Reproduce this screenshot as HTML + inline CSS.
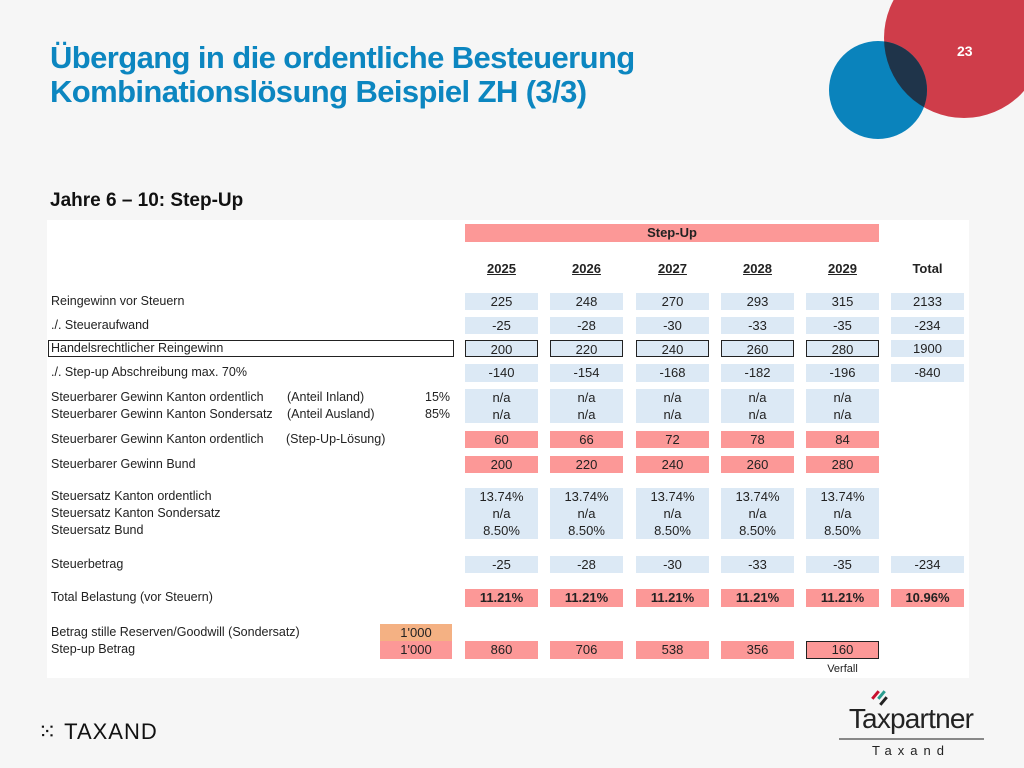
<!DOCTYPE html>
<html><head><meta charset="utf-8">
<style>
body{margin:0;width:1024px;height:768px;background:#f6f6f6;position:relative;overflow:hidden;font-family:"Liberation Sans",Arial,sans-serif}
.abs{position:absolute}
.t{position:absolute;font-size:12.5px;color:#222;white-space:nowrap;line-height:17px}
.c{position:absolute;font-size:13px;color:#222;text-align:center;line-height:17px}
</style></head><body>
<div class="abs" style="left:884px;top:-42px;width:160px;height:160px;border-radius:50%;background:#cf3d4a"></div>
<svg class="abs" style="left:0;top:0" width="1024" height="160">
<defs><clipPath id="rc"><circle cx="964" cy="38" r="80"/></clipPath></defs>
<circle cx="878" cy="90" r="49" fill="#0a83bc"/>
<circle cx="878" cy="90" r="49" fill="#1f344a" clip-path="url(#rc)"/>
</svg>
<div class="abs" style="left:957px;top:43px;color:#fff;font-size:14px;font-weight:bold">23</div>
<div class="abs" style="left:50px;top:41px;color:#0c86c0;font-size:31px;font-weight:bold;letter-spacing:-0.6px;line-height:34px">Übergang in die ordentliche Besteuerung<br>Kombinationslösung Beispiel ZH (3/3)</div>
<div class="abs" style="left:50px;top:190px;font-size:19px;font-weight:bold;color:#111">Jahre 6 – 10: Step-Up</div>
<div class="abs" style="left:47px;top:220px;width:922px;height:458px;background:#fff"></div>
<div id="tbl"></div>

<div class="abs" style="left:38px;top:719px;font-size:22px;letter-spacing:1px;color:#111">⁙ TAXAND</div>
<div class="abs" style="left:836px;top:688px;width:150px;text-align:center">
<div style="height:16px;position:relative"><span style="position:absolute;left:38px;top:2px;width:3px;height:10px;background:#c8102e;transform:rotate(40deg)"></span><span style="position:absolute;left:44px;top:2px;width:3px;height:10px;background:#2a9d8f;transform:rotate(40deg)"></span><span style="position:absolute;left:46px;top:8px;width:3px;height:10px;background:#222;transform:rotate(40deg)"></span></div>
<div style="font-size:28px;color:#222;letter-spacing:-0.8px;line-height:30px">Taxpartner</div>
<div style="border-top:2px solid #888;width:145px;margin:4px auto 0"></div>
<div style="font-size:13px;letter-spacing:6px;color:#222;margin-top:3px">Taxand</div>
</div>
<script>
const colX=[465,550,636,721,806,891];
const cw=73;
const years=['2025','2026','2027','2028','2029'];
const BL='#dce9f5',RD='#fc9897',OR='#f4b183';
const rows=[
 {y:293,h:17,lab:['Reingewinn vor Steuern'],vals:['225','248','270','293','315','2133'],bg:BL},
 {y:317,h:17,lab:['./. Steueraufwand'],vals:['-25','-28','-30','-33','-35','-234'],bg:BL},
 {y:340,h:17,lab:['Handelsrechtlicher Reingewinn'],vals:['200','220','240','260','280','1900'],bg:BL,box:true},
 {y:364,h:18,lab:['./. Step-up Abschreibung max. 70%'],vals:['-140','-154','-168','-182','-196','-840'],bg:BL},
 {y:389,h:34,lab:['Steuerbarer Gewinn Kanton ordentlich','Steuerbarer Gewinn Kanton Sondersatz'],vals:['n/a<br>n/a','n/a<br>n/a','n/a<br>n/a','n/a<br>n/a','n/a<br>n/a'],bg:BL},
 {y:431,h:17,lab:['Steuerbarer Gewinn Kanton ordentlich'],vals:['60','66','72','78','84'],bg:RD},
 {y:456,h:17,lab:['Steuerbarer Gewinn Bund'],vals:['200','220','240','260','280'],bg:RD},
 {y:488,h:51,lab:['Steuersatz Kanton ordentlich','Steuersatz Kanton Sondersatz','Steuersatz Bund'],vals:Array(5).fill('13.74%<br>n/a<br>8.50%'),bg:BL},
 {y:556,h:17,lab:['Steuerbetrag'],vals:['-25','-28','-30','-33','-35','-234'],bg:BL},
 {y:589,h:18,lab:['Total Belastung (vor Steuern)'],vals:['11.21%','11.21%','11.21%','11.21%','11.21%','10.96%'],bg:RD,bold:true},
 {y:641,h:18,lab:['Step-up Betrag'],vals:['860','706','538','356','160'],bg:RD}
];
const T=document.getElementById('tbl');
function add(cls,x,y,w,h,html,style){const d=document.createElement('div');d.className=cls;d.style.left=x+'px';d.style.top=y+'px';if(w)d.style.width=w+'px';if(h)d.style.height=h+'px';d.innerHTML=html;if(style)d.style.cssText+=style;T.appendChild(d);return d;}
let e=add('c',465,224,414,18,'Step-Up','background:'+RD+';font-weight:bold');


years.forEach((yr,i)=>{const d=add('c',colX[i],260,cw,17,yr,'font-weight:bold;text-decoration:underline');

});
e=add('c',colX[5],260,cw,17,'Total','font-weight:bold');


rows.forEach((r,ri)=>{
 r.lab.forEach((l,li)=>{const d=add('t',51,r.y+li*17,0,0,l);
 
 });
 r.vals.forEach((v,i)=>{const d=add('c',colX[i],r.y,cw,r.h,v,'background:'+r.bg+(r.bold?';font-weight:bold':'')+(r.box&&i<5?';box-sizing:border-box;border:1.5px solid #222':''));
 
 });
});
e=add('abs',48,340,406,17,'','border:1.5px solid #222;box-sizing:border-box');


[['(Anteil Inland)',389,'15%'],['(Anteil Ausland)',406,'85%']].forEach(a=>{
 let d=add('t',287,a[1],0,0,a[0]);
 d=add('t',425,a[1],0,0,a[2]);});
e=add('t',286,431,0,0,'(Step-Up-Lösung)');


e=add('t',51,624,0,0,'Betrag stille Reserven/Goodwill (Sondersatz)');


e=add('c',380,624,72,17,"1'000",'background:'+OR);


e=add('c',380,641,72,18,"1'000",'background:'+RD);


e=add('abs',806,641,73,18,'','border:1.5px solid #222;box-sizing:border-box');


e=add('c',806,661,73,14,'Verfall','font-size:11px');


</script>
</body></html>
